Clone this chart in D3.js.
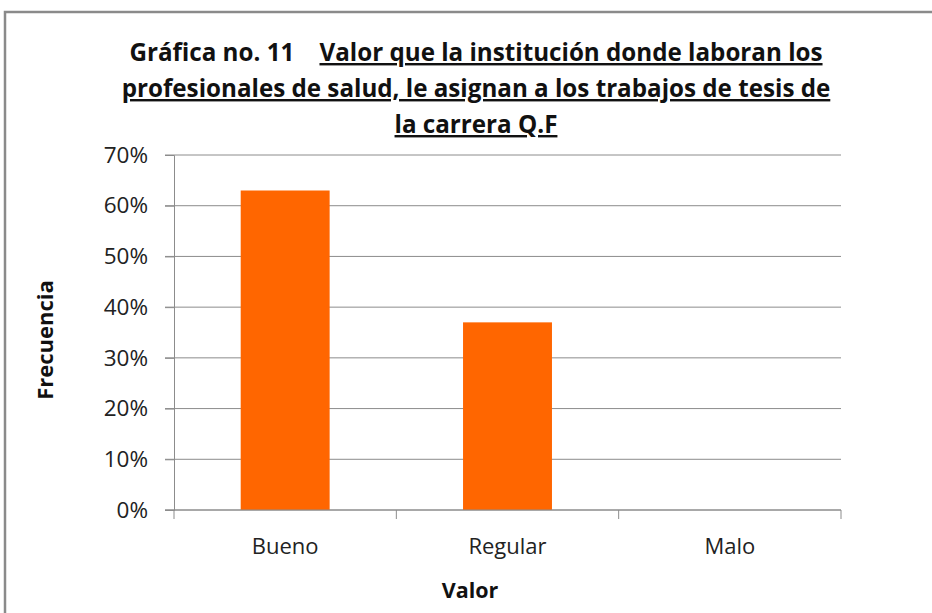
<!DOCTYPE html>
<html><head><meta charset="utf-8">
<script src="https://cdn.jsdelivr.net/npm/d3@7"></script>
<style>body{margin:0;background:#fff}svg{display:block}</style>
</head><body>
<svg id="c" width="932" height="613"></svg>
<script>
const categories = ["Bueno", "Regular", "Malo"];
const values = [0.63, 0.37, 0];
const yTicks = [0, 0.1, 0.2, 0.3, 0.4, 0.5, 0.6, 0.7];
const titlePrefix = "Gráfica no. 11";
const titleLines = ["Valor que la institución donde laboran los", "profesionales de salud, le asignan a los trabajos de tesis de", "la carrera Q.F"];
const xTitle = "Valor";
const yTitle = "Frecuencia";

const svg = d3.select("#c");
const font = "'Open Sans', sans-serif";
const L = 174, R = 841, T = 155, B = 510;

// chart border
svg.append("path").attr("d", `M5,613 L5,12 L932,12`).attr("fill", "none")
  .attr("stroke", "#8a8a8a").attr("stroke-width", 2.5);

const x = d3.scaleBand().domain(categories).range([L, R]).paddingInner(0.6).paddingOuter(0.3);
const y = d3.scaleLinear().domain([0, 0.7]).range([B, T]);

// gridlines
svg.append("g").selectAll("line").data(yTicks).join("line")
  .attr("x1", L - 9).attr("x2", R).attr("y1", d => y(d)).attr("y2", d => y(d))
  .attr("stroke", "#8c8c8c").attr("stroke-width", 1);

// bars
svg.append("g").selectAll("rect").data(values).join("rect")
  .attr("x", (d, i) => x(categories[i])).attr("width", x.bandwidth())
  .attr("y", d => y(d)).attr("height", d => B - y(d)).attr("fill", "#ff6600");

// y axis
const yAxis = svg.append("g").attr("transform", `translate(${L},0)`)
  .call(d3.axisLeft(y).tickValues(yTicks).tickFormat(d3.format(".0%")).tickSize(9).tickPadding(17));
yAxis.select(".domain").attr("stroke", "#8c8c8c");
yAxis.selectAll(".tick line").attr("stroke", "#8c8c8c");
yAxis.selectAll("text").attr("font-family", font).attr("font-size", 22.5).attr("fill", "#222");

// x axis
const xb = d3.scalePoint().domain(d3.range(categories.length + 1)).range([L, R]);
const xAxis = svg.append("g").attr("transform", `translate(0,${B})`);
xAxis.append("line").attr("x1", L - 9).attr("x2", R).attr("stroke", "#8c8c8c");
xAxis.selectAll("line.t").data(xb.domain()).join("line").attr("class", "t")
  .attr("x1", d => xb(d)).attr("x2", d => xb(d)).attr("y1", 0).attr("y2", 9).attr("stroke", "#8c8c8c");
xAxis.selectAll("text").data(categories).join("text")
  .attr("x", d => x(d) + x.bandwidth() / 2).attr("y", 44).attr("text-anchor", "middle")
  .attr("font-family", font).attr("font-size", 22).attr("fill", "#222").text(d => d);

// axis titles
svg.append("text").attr("x", 470).attr("y", 598).attr("text-anchor", "middle")
  .attr("font-family", font).attr("font-size", 21.5).attr("font-weight", "bold").attr("fill", "#111").text(xTitle);
svg.append("text").attr("transform", "translate(53,340) rotate(-90)").attr("text-anchor", "middle")
  .attr("font-family", font).attr("font-size", 22).attr("font-weight", "bold").attr("fill", "#111").text(yTitle);

// title
const tg = svg.append("g").attr("font-family", font).attr("font-size", 24.2).attr("font-weight", "bold").attr("fill", "#111");
const t1 = tg.append("text").attr("x", 476).attr("y", 61).attr("text-anchor", "middle");
t1.append("tspan").text(titlePrefix + "\u00a0\u00a0\u00a0\u00a0");
t1.append("tspan").attr("text-decoration", "underline").text(titleLines[0]);
tg.append("text").attr("x", 476).attr("y", 97).attr("text-anchor", "middle")
  .attr("text-decoration", "underline").text(titleLines[1]);
tg.append("text").attr("x", 476).attr("y", 133).attr("text-anchor", "middle")
  .attr("text-decoration", "underline").text(titleLines[2]);
</script>
</body></html>
